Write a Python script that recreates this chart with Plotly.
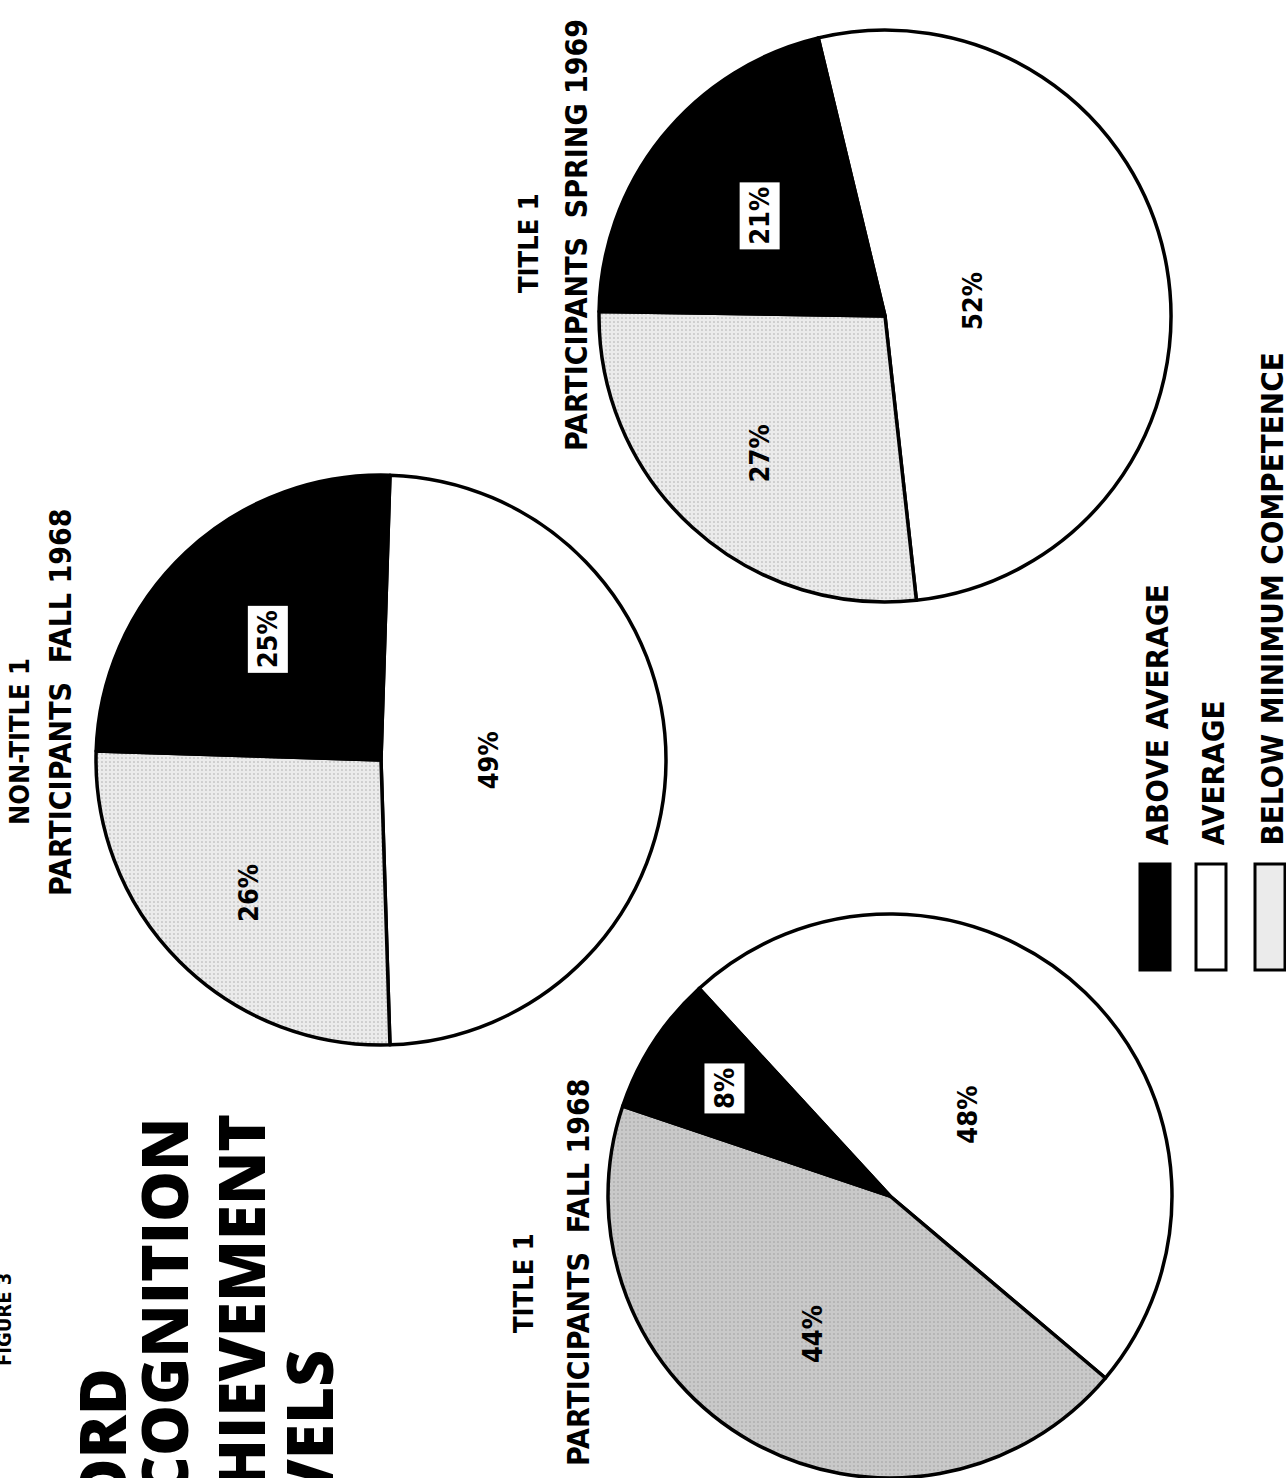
import math
import plotly.graph_objects as go

W, H = 1286, 1478

# ---------------- data ----------------
categories = ["AVERAGE", "BELOW MINIMUM COMPETENCE", "ABOVE AVERAGE"]
legend_labels = ["ABOVE AVERAGE", "AVERAGE", "BELOW MINIMUM COMPETENCE"]

title1_fall_1968 = [48, 44, 8]
non_title1_fall_1968 = [49, 26, 25]
title1_spring_1969 = [52, 27, 21]

pie_heading_1 = ["TITLE 1", "NON-TITLE 1", "TITLE 1"]
pie_heading_2 = ["PARTICIPANTS  FALL 1968", "PARTICIPANTS  FALL 1968", "PARTICIPANTS  SPRING 1969"]

main_title = ["WORD", "RECOGNITION", "ACHIEVEMENT", "LEVELS"]
figure_label = "FIGURE 3"

# ---------------- style / layout ----------------
series = [title1_fall_1968, non_title1_fall_1968, title1_spring_1969]
centers = [(890, 1196), (381, 760), (885, 316)]      # px
radii = [282, 285, 286]
rotations = [-42.6, 1.8, -13.5]
label_frac = [[0.40, 0.56, 0.70], [0.38, 0.66, 0.58], [0.31, 0.65, 0.56]]
gray_fill = ["#c9c9c9", "#ebebeb", "#ebebeb"]
heading1_pos = [(523, 1283), (19, 742), (528, 243)]
heading2_pos = [(578, 1272), (60, 702), (576, 235)]
title_line_x = [101, 163, 240, 308]
title_start_y = 1578

COND = "DejaVu Sans Condensed, Liberation Sans Narrow, Roboto, sans-serif"
HEAVY = "Open Sans, Lato, DejaVu Sans, sans-serif"


def px(x):
    return x / W


def py(y):
    return 1 - y / H


fig = go.Figure()
annotations = []

for i, vals in enumerate(series):
    cx, cy = centers[i]
    r = radii[i]
    fig.add_trace(go.Pie(
        labels=categories,
        values=vals,
        sort=False,
        direction="clockwise",
        rotation=rotations[i],
        textinfo="none",
        hoverinfo="label+percent",
        domain=dict(x=[px(cx - r), px(cx + r)], y=[py(cy + r), py(cy - r)]),
        marker=dict(
            colors=["#ffffff", gray_fill[i], "#000000"],
            line=dict(color="#000000", width=3.5),
            pattern=dict(shape=["", ".", ""], fgcolor="#7a7a7a", fgopacity=0.6,
                         size=4, solidity=0.12, fillmode="overlay"),
        ),
        showlegend=False,
    ))
    # percentage labels at slice mid-angles
    total = sum(vals)
    start = rotations[i]
    for j, v in enumerate(vals):
        span = 360 * v / total
        mid = math.radians(start + span / 2)
        start += span
        f = label_frac[i][j]
        lx = cx + f * r * math.sin(mid)
        ly = cy - f * r * math.cos(mid)
        is_black = categories[j] == "ABOVE AVERAGE"
        annotations.append(dict(
            x=px(lx), y=py(ly), xref="paper", yref="paper",
            text=f"{v}%", showarrow=False, textangle=-90,
            font=dict(family=COND, size=27, color="#000000", weight="bold"),
            bgcolor="#ffffff" if is_black else None,
            borderpad=4 if is_black else 0,
            xanchor="center", yanchor="middle",
        ))
    # headings
    hx, hy = heading1_pos[i]
    annotations.append(dict(
        x=px(hx), y=py(hy), xref="paper", yref="paper", text=pie_heading_1[i],
        showarrow=False, textangle=-90, xanchor="center", yanchor="middle",
        font=dict(family=COND, size=27, color="#000000", weight="bold"),
    ))
    hx, hy = heading2_pos[i]
    annotations.append(dict(
        x=px(hx), y=py(hy), xref="paper", yref="paper", text=pie_heading_2[i],
        showarrow=False, textangle=-90, xanchor="center", yanchor="middle",
        font=dict(family=COND, size=30, color="#000000", weight="bold"),
    ))

# main title: rotated lines, left aligned, starting just below the page edge
for k, line in enumerate(main_title):
    annotations.append(dict(
        x=px(title_line_x[k]), y=py(title_start_y), xref="paper", yref="paper",
        text=line, showarrow=False, textangle=-90,
        xanchor="center", yanchor="bottom",
        font=dict(family=HEAVY, size=64, color="#000000", weight=800),
    ))

annotations.append(dict(
    x=px(4), y=py(1320), xref="paper", yref="paper", text=figure_label,
    showarrow=False, textangle=-90, xanchor="center", yanchor="middle",
    font=dict(family=COND, size=20, color="#000000", weight="bold"),
))

# legend (rotated)
leg_fill = {"ABOVE AVERAGE": "#000000", "AVERAGE": "#ffffff",
            "BELOW MINIMUM COMPETENCE": "#ebebeb"}
leg_x = [1155, 1211, 1270]
shapes = []
for k, lab in enumerate(legend_labels):
    x0 = leg_x[k] - 15
    x1 = leg_x[k] + 15
    shapes.append(dict(type="rect", xref="paper", yref="paper",
                       x0=px(x0), x1=px(x1), y0=py(970), y1=py(864),
                       fillcolor=leg_fill[lab],
                       line=dict(color="#000000", width=3)))
    annotations.append(dict(
        x=px(leg_x[k] + 2), y=py(848), xref="paper", yref="paper", text=lab,
        showarrow=False, textangle=-90, xanchor="center", yanchor="bottom",
        font=dict(family=COND, size=31, color="#000000", weight="bold"),
    ))

fig.update_layout(
    width=W, height=H,
    margin=dict(l=0, r=0, t=0, b=0),
    paper_bgcolor="#ffffff", plot_bgcolor="#ffffff",
    showlegend=False,
    annotations=annotations,
    shapes=shapes,
)

fig.write_html("out.html")
